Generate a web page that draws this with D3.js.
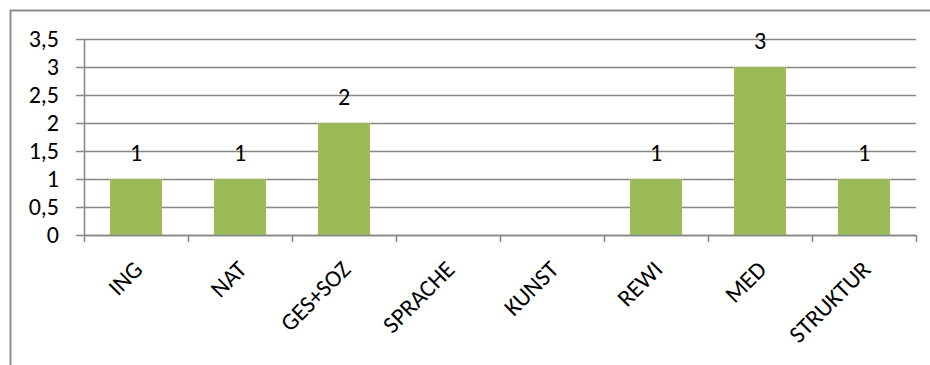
<!DOCTYPE html>
<html>
<head>
<meta charset="utf-8">
<script src="https://cdn.jsdelivr.net/npm/d3@7/dist/d3.min.js"></script>
<style>
  html, body { margin: 0; padding: 0; background: #fff; }
  svg { display: block; }
  text { font-family: Carlito, Calibri, "Open Sans", sans-serif; fill: #000; }
</style>
</head>
<body>
<svg id="chart" width="930" height="365"></svg>
<script>
const categories = ["ING", "NAT", "GES+SOZ", "SPRACHE", "KUNST", "REWI", "MED", "STRUKTUR"];
const values = [1, 1, 2, 0, 0, 1, 3, 1];
const yTicks = [0, 0.5, 1, 1.5, 2, 2.5, 3, 3.5];

const svg = d3.select("#chart");
const W = 930, H = 365;
const plot = { left: 84, right: 916, top: 39, bottom: 235 };

// outer chart frame (left and top edges visible)
svg.append("path")
  .attr("d", `M10.5,${H} V10.5 H${W}`)
  .attr("fill", "none")
  .attr("stroke", "#8c8c8c")
  .attr("stroke-width", 2);

const x = d3.scaleBand()
  .domain(categories)
  .range([plot.left, plot.right])
  .paddingInner(0.5)
  .paddingOuter(0.25);

const y = d3.scaleLinear()
  .domain([0, 3.5])
  .range([plot.bottom, plot.top]);

const fmt = d => String(d).replace(".", ",");

// horizontal gridlines
svg.append("g")
  .selectAll("line")
  .data(yTicks)
  .join("line")
  .attr("x1", plot.left - 8)
  .attr("x2", plot.right)
  .attr("y1", d => Math.round(y(d)) + 0.5)
  .attr("y2", d => Math.round(y(d)) + 0.5)
  .attr("stroke", "#868686")
  .attr("stroke-width", 1.5);

// y axis labels
svg.append("g")
  .selectAll("text")
  .data(yTicks)
  .join("text")
  .attr("x", 59)
  .attr("y", d => y(d))
  .attr("dy", "0.33em")
  .attr("text-anchor", "end")
  .attr("font-size", 24)
  .text(fmt);

// bars
svg.append("g")
  .selectAll("rect")
  .data(categories)
  .join("rect")
  .attr("x", d => x(d))
  .attr("width", x.bandwidth())
  .attr("y", (d, i) => y(values[i]))
  .attr("height", (d, i) => y(0) - y(values[i]))
  .attr("fill", "#9bbb59");

// value labels
svg.append("g")
  .selectAll("text")
  .data(categories.filter((d, i) => values[i] > 0))
  .join("text")
  .attr("x", d => x(d) + x.bandwidth() / 2)
  .attr("y", d => y(values[categories.indexOf(d)]) - 18)
  .attr("text-anchor", "middle")
  .attr("font-size", 24)
  .text(d => values[categories.indexOf(d)]);

// y axis line
svg.append("line")
  .attr("x1", plot.left + 0.5).attr("x2", plot.left + 0.5)
  .attr("y1", plot.top).attr("y2", plot.bottom)
  .attr("stroke", "#868686").attr("stroke-width", 1.5);

// x axis line and category boundary ticks
const step = x.step();
const boundaries = d3.range(categories.length + 1).map(i => plot.left + i * step);
svg.append("line")
  .attr("x1", plot.left).attr("x2", plot.right)
  .attr("y1", plot.bottom + 0.5).attr("y2", plot.bottom + 0.5)
  .attr("stroke", "#868686").attr("stroke-width", 1.5);
svg.append("g")
  .selectAll("line")
  .data(boundaries)
  .join("line")
  .attr("x1", d => Math.round(d) + 0.5).attr("x2", d => Math.round(d) + 0.5)
  .attr("y1", plot.bottom).attr("y2", plot.bottom + 7)
  .attr("stroke", "#868686").attr("stroke-width", 1.5);

// rotated category labels
svg.append("g")
  .selectAll("text")
  .data(categories)
  .join("text")
  .attr("text-anchor", "end")
  .attr("font-size", 24)
  .attr("transform", d => `translate(${x(d) + x.bandwidth() / 2 + 8},${plot.bottom + 36}) rotate(-45)`)
  .text(d => d);
</script>
</body>
</html>
